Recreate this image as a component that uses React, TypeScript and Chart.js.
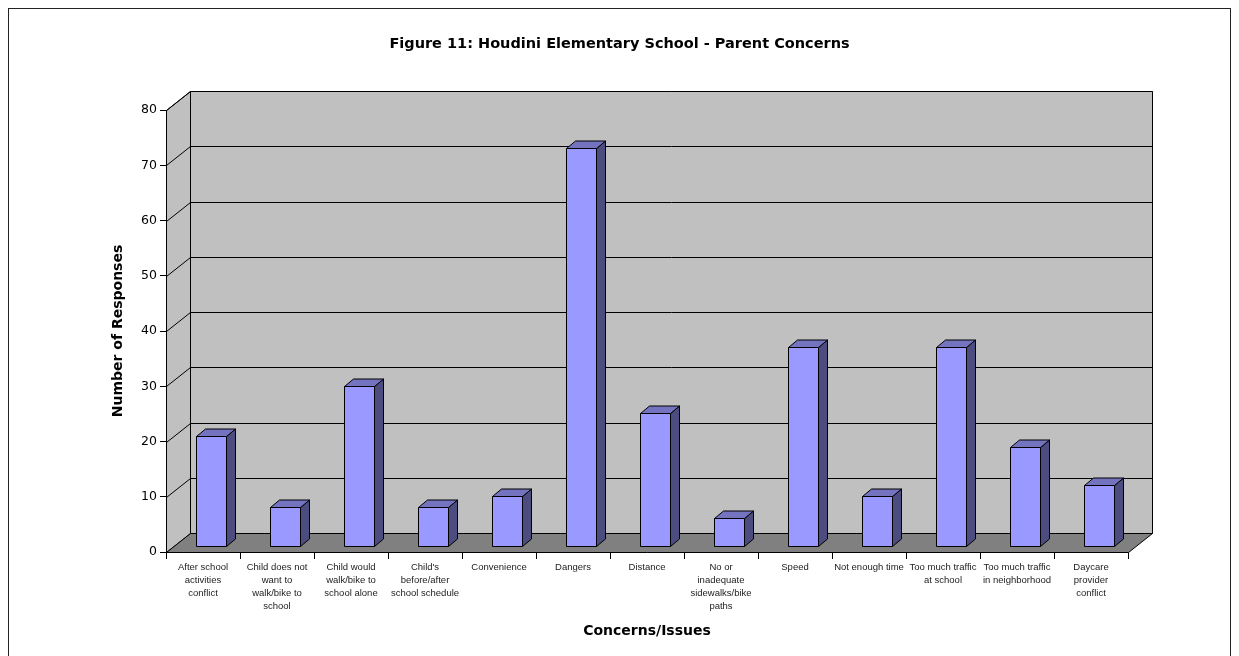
import { useEffect, useRef } from "react";
import { Chart, registerables } from "chart.js";

Chart.register(...registerables);

// ---- data ----
const categories: (string | string[])[] = [
  ["After school", "activities", "conflict"],
  ["Child does not", "want to", "walk/bike to", "school"],
  ["Child would", "walk/bike to", "school alone"],
  ["Child's", "before/after", "school schedule"],
  "Convenience",
  "Dangers",
  "Distance",
  ["No or", "inadequate", "sidewalks/bike", "paths"],
  "Speed",
  "Not enough time",
  ["Too much traffic", "at school"],
  ["Too much traffic", "in neighborhood"],
  ["Daycare", "provider", "conflict"],
];

const responses = [20, 7, 29, 7, 9, 72, 24, 5, 36, 9, 36, 18, 11];

const yMin = 0;
const yMax = 80;
const yStep = 10;

const chartTitle = "Figure 11: Houdini Elementary School - Parent Concerns";
const xTitle = "Concerns/Issues";
const yTitle = "Number of Responses";

// ---- 3D look ----
const WALL_DX = 24;
const WALL_DY = -19;
const BAR_SHIFT_X = 7.6;
const BAR_SHIFT_Y = -6;
const BAR_DEPTH_X = 9;
const BAR_DEPTH_Y = -7.5;

const WALL_FILL = "#c0c0c0";
const FLOOR_FILL = "#808080";
const BAR_FRONT = "#9999ff";
const BAR_TOP = "#7373c0";
const BAR_SIDE = "#4c4c80";

const crisp = (v: number) => Math.round(v) + 0.5;

function poly(ctx: CanvasRenderingContext2D, pts: number[][], fill?: string) {
  ctx.beginPath();
  ctx.moveTo(pts[0][0], pts[0][1]);
  for (let i = 1; i < pts.length; i++) ctx.lineTo(pts[i][0], pts[i][1]);
  ctx.closePath();
  if (fill) {
    ctx.fillStyle = fill;
    ctx.fill();
  }
  ctx.stroke();
}

const box3d = {
  id: "box3d",
  beforeDraw(chart: any) {
    const ctx: CanvasRenderingContext2D = chart.ctx;
    ctx.save();
    ctx.strokeStyle = "#222";
    ctx.lineWidth = 1;
    ctx.strokeRect(8.5, 8.5, 1222, 700);
    ctx.restore();
  },
  beforeDatasetsDraw(chart: any) {
    const ctx: CanvasRenderingContext2D = chart.ctx;
    const { left, right, top, bottom } = chart.chartArea;
    const L = crisp(left);
    const R = crisp(right);
    const T = crisp(top);
    const B = crisp(bottom);
    ctx.save();
    ctx.lineWidth = 1;
    ctx.strokeStyle = "#000";
    ctx.lineJoin = "miter";
    // side wall
    poly(ctx, [[L, B], [L + WALL_DX, B + WALL_DY], [L + WALL_DX, T + WALL_DY], [L, T]], WALL_FILL);
    // back wall
    poly(
      ctx,
      [
        [L + WALL_DX, T + WALL_DY],
        [R + WALL_DX, T + WALL_DY],
        [R + WALL_DX, B + WALL_DY],
        [L + WALL_DX, B + WALL_DY],
      ],
      WALL_FILL
    );
    // floor
    poly(ctx, [[L, B], [R, B], [R + WALL_DX, B + WALL_DY], [L + WALL_DX, B + WALL_DY]], FLOOR_FILL);
    // gridlines on the walls
    const yScale = chart.scales.y;
    ctx.beginPath();
    for (const t of yScale.ticks) {
      if (t.value === yMin) continue;
      const py = crisp(yScale.getPixelForValue(t.value));
      ctx.moveTo(L, py);
      ctx.lineTo(L + WALL_DX, py + WALL_DY);
      ctx.lineTo(R + WALL_DX, py + WALL_DY);
    }
    ctx.stroke();
    ctx.restore();
  },
  afterDatasetsDraw(chart: any) {
    const ctx: CanvasRenderingContext2D = chart.ctx;
    const meta = chart.getDatasetMeta(0);
    ctx.save();
    ctx.lineWidth = 1;
    ctx.strokeStyle = "#000";
    ctx.lineJoin = "miter";
    for (const el of meta.data) {
      const { x, y, base, width } = el.getProps(["x", "y", "base", "width"], true);
      const l = crisp(x - width / 2 + BAR_SHIFT_X);
      const r = crisp(x + width / 2 + BAR_SHIFT_X);
      const t = crisp(y + BAR_SHIFT_Y);
      const b = crisp(base + BAR_SHIFT_Y);
      // side face
      poly(ctx, [[r, t], [r + BAR_DEPTH_X, t + BAR_DEPTH_Y], [r + BAR_DEPTH_X, b + BAR_DEPTH_Y], [r, b]], BAR_SIDE);
      // top face
      poly(ctx, [[l, t], [r, t], [r + BAR_DEPTH_X, t + BAR_DEPTH_Y], [l + BAR_DEPTH_X, t + BAR_DEPTH_Y]], BAR_TOP);
      // front face
      poly(ctx, [[l, t], [r, t], [r, b], [l, b]], BAR_FRONT);
    }
    ctx.restore();
  },
};

export default function App() {
  const canvasRef = useRef<HTMLCanvasElement | null>(null);

  useEffect(() => {
    if (!canvasRef.current) return;
    const chart = new Chart(canvasRef.current, {
      type: "bar",
      data: {
        labels: categories,
        datasets: [
          {
            label: yTitle,
            data: responses,
            backgroundColor: "rgba(0,0,0,0)",
            borderWidth: 0,
            barPercentage: 30 / 74,
            categoryPercentage: 1,
          },
        ],
      },
      options: {
        responsive: false,
        maintainAspectRatio: false,
        animation: false,
        devicePixelRatio: 1,
        events: [],
        layout: { padding: 0 },
        plugins: {
          legend: { display: false },
          tooltip: { enabled: false },
          title: {
            display: true,
            text: chartTitle,
            color: "#000",
            font: { family: "'DejaVu Sans'", weight: "bold", size: 14.5, lineHeight: 1.2 },
            padding: { top: 35.3, bottom: 57.3 },
          },
        },
        scales: {
          x: {
            type: "category",
            offset: true,
            grid: { offset: true, drawOnChartArea: false, drawTicks: true, tickLength: 7, color: "#000" },
            border: { display: true, color: "#000" },
            ticks: {
              autoSkip: false,
              maxRotation: 0,
              minRotation: 0,
              padding: 2,
              color: "#222",
              font: { family: "'Liberation Sans'", size: 9.5, lineHeight: 13 / 9.5 },
            },
            title: {
              display: true,
              text: xTitle,
              color: "#000",
              font: { family: "'DejaVu Sans'", weight: "bold", size: 14, lineHeight: 1.2 },
              padding: { top: 0, bottom: 16 },
            },
            afterFit: (s: any) => {
              s.height = 104;
            },
          },
          y: {
            type: "linear",
            position: "left",
            min: yMin,
            max: yMax,
            grid: { drawOnChartArea: false, drawTicks: true, tickLength: 6, color: "#000" },
            border: { display: true, color: "#000" },
            ticks: {
              stepSize: yStep,
              padding: 3,
              color: "#000",
              font: { family: "'DejaVu Sans'", size: 12.5 },
            },
            title: {
              display: true,
              text: yTitle,
              color: "#000",
              font: { family: "'DejaVu Sans'", weight: "bold", size: 14, lineHeight: 1.2 },
              padding: { top: 109.6, bottom: 0 },
            },
            afterFit: (s: any) => {
              s.width = 166;
            },
          },
          yRight: {
            type: "linear",
            position: "right",
            display: true,
            grid: { display: false, drawTicks: false },
            border: { display: false },
            ticks: { display: false },
            afterFit: (s: any) => {
              s.width = 111;
            },
          },
        },
      },
      plugins: [box3d],
    } as any);
    return () => chart.destroy();
  }, []);

  return (
    <div style={{ position: "fixed", left: 0, top: 0, width: 1239, height: 656, background: "#fff" }}>
      <canvas ref={canvasRef} width={1239} height={656} style={{ display: "block" }} />
    </div>
  );
}
